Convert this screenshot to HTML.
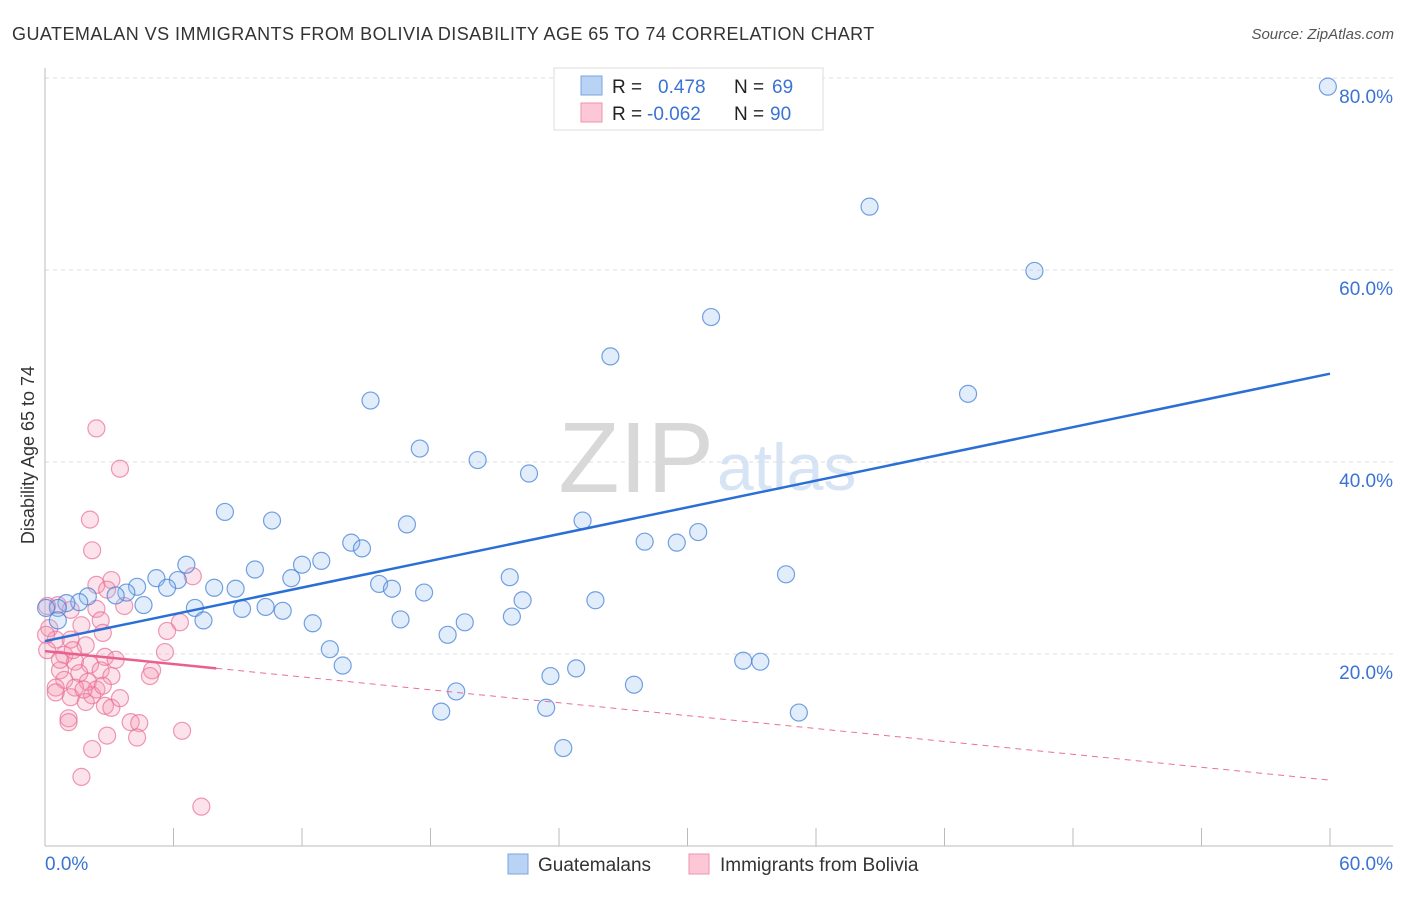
<!DOCTYPE html>
<html><head><meta charset="utf-8"><style>
body{margin:0;background:#fff;font-family:"Liberation Sans",sans-serif}
svg text{font-family:"Liberation Sans",sans-serif}
</style></head><body>
<svg width="1406" height="892" id="c">
<text x="12" y="40" font-size="18" fill="#333" letter-spacing="0.45">GUATEMALAN VS IMMIGRANTS FROM BOLIVIA DISABILITY AGE 65 TO 74 CORRELATION CHART</text>
<text x="1394" y="39" font-size="15" fill="#555" text-anchor="end" font-style="italic">Source: ZipAtlas.com</text>
<text x="714" y="492" font-size="100" fill="#d8d8d8" text-anchor="end" font-family="Liberation Serif">ZIP</text>
<text x="717" y="490" font-size="66" fill="#d6e4f5">atlas</text>
<text transform="translate(34,455) rotate(-90)" font-size="18" fill="#333" text-anchor="middle">Disability Age 65 to 74</text>
<g id="grid"></g><g id="pts"></g><g id="lines"></g>
<g>
<rect x="554" y="68" width="269" height="62" fill="#fff" stroke="#ddd"/>
<rect x="581" y="76" width="21" height="19" fill="#b9d3f5" stroke="#7aa6e0"/>
<rect x="581" y="103" width="21" height="19" fill="#fcc7d6" stroke="#ef90ac"/>
<text x="612" y="93" font-size="19" fill="#222">R =</text><text x="658" y="93" font-size="19" fill="#3a73d4">0.478</text>
<text x="734" y="93" font-size="19" fill="#222">N =</text><text x="772" y="93" font-size="19" fill="#3a73d4">69</text>
<text x="612" y="120" font-size="19" fill="#222">R =</text><text x="647" y="120" font-size="19" fill="#3a73d4">-0.062</text>
<text x="734" y="120" font-size="19" fill="#222">N =</text><text x="770" y="120" font-size="19" fill="#3a73d4">90</text>
</g>
<g>
<rect x="508" y="854" width="20" height="20" fill="#b9d3f5" stroke="#7aa6e0"/>
<text x="538" y="871" font-size="19" fill="#333">Guatemalans</text>
<rect x="689" y="854" width="20" height="20" fill="#fcc7d6" stroke="#ef90ac"/>
<text x="720" y="871" font-size="19" fill="#333">Immigrants from Bolivia</text>
</g>
</svg>
<script>
const yTicks=[20,40,60,80];
const xTickLabels=["0.0%","60.0%"];
const blueX=[59.9,38.5,46.2,31.1,26.4,43.1,15.2,17.5,20.2,22.6,8.4,10.6,16.9,25.1,30.5,28.0,29.5,14.3,14.8,12.9,12.0,6.6,9.8,5.2,6.2,11.5,21.7,34.6,15.6,4.3,5.7,7.9,8.9,16.2,17.7,3.8,3.3,2.0,1.6,1.0,4.6,22.3,25.7,7.0,9.2,10.3,11.1,0.6,0.05,7.4,12.5,16.6,19.6,21.8,18.8,0.6,13.3,13.9,32.6,33.4,24.8,23.6,27.5,19.2,23.4,18.5,35.2,24.2];
const blueY=[79.1,66.6,59.9,55.1,51.0,47.1,46.4,41.4,40.2,38.8,34.8,33.9,33.5,33.9,32.7,31.7,31.6,31.6,31.0,29.7,29.3,29.3,28.8,27.9,27.7,27.9,28.0,28.3,27.3,27.0,26.9,26.9,26.8,26.8,26.4,26.4,26.1,26.0,25.4,25.3,25.1,25.6,25.6,24.8,24.7,24.9,24.5,24.8,24.8,23.5,23.2,23.6,23.3,23.9,22.0,23.5,20.5,18.8,19.3,19.2,18.5,17.7,16.8,16.1,14.4,14.0,13.9,10.2];
const pinkX=[2.4,3.5,2.1,2.2,6.9,3.1,2.4,2.9,0.6,1.2,2.4,3.7,2.6,6.3,1.7,0.2,2.7,5.7,0.5,1.2,1.9,0.9,2.8,3.3,5.6,1.4,2.1,0.7,2.6,5.0,1.6,3.1,0.9,2.0,4.9,0.5,1.4,2.4,1.2,2.2,1.9,2.8,3.1,1.1,1.1,4.0,4.4,2.9,4.3,6.4,2.2,1.7,7.3,0.1,0.05,0.1,0.7,1.3,0.5,1.8,3.5,2.7];
const pinkY=[43.5,39.3,34.0,30.8,28.1,27.7,27.2,26.7,25.1,24.6,24.7,25.0,23.5,23.3,23.0,22.7,22.2,22.4,21.5,21.5,20.9,19.9,19.7,19.4,20.2,19.2,18.9,18.3,18.3,18.3,18.0,17.7,17.3,17.1,17.7,16.5,16.5,16.3,15.5,15.7,15.0,14.6,14.4,13.3,12.9,12.9,12.8,11.5,11.3,12.0,10.1,7.2,4.1,25.0,22.0,20.4,19.4,20.4,16.0,16.3,15.4,16.7];
const blueLine=[21.35,49.2];
const pinkLine=[20.3,-0.224];
const X=v=>45+v*1285/60, Y=v=>846-v*9.6;
const NS="http://www.w3.org/2000/svg";
function mk(tag,attrs,parent){const e=document.createElementNS(NS,tag);for(const k in attrs)e.setAttribute(k,attrs[k]);parent.appendChild(e);return e;}
const g=document.getElementById('grid');
yTicks.forEach(t=>{
 const l=mk('line',{x1:45,x2:1393,y1:Y(t),y2:Y(t),stroke:'#ddd','stroke-dasharray':'4,4'},g);
 
 
 const tx=mk('text',{x:1393,y:Y(t)+25,'font-size':19,fill:'#3a73d4','text-anchor':'end'},g);
 tx.textContent=t.toFixed(1)+'%';
 
 
});
let ax=mk('line',{x1:45,x2:45,y1:68,y2:846,stroke:'#bbb'},g);


ax=mk('line',{x1:45,x2:1393,y1:846,y2:846,stroke:'#bbb'},g);


for(let i=0;i<=10;i++){const v=i*6;const t=mk('line',{x1:X(v),x2:X(v),y1:828,y2:846,stroke:'#bbb'},g);
 
 }
let xl=mk('text',{x:45,y:870,'font-size':19,fill:'#3a73d4'},g);xl.textContent=xTickLabels[0];


xl=mk('text',{x:1393,y:870,'font-size':19,fill:'#3a73d4','text-anchor':'end'},g);xl.textContent=xTickLabels[1];


const p=document.getElementById('pts');
pinkX.forEach((x,i)=>{const c=mk('circle',{cx:X(x),cy:Y(pinkY[i]),r:8.5,fill:'rgba(245,150,180,0.28)',stroke:'rgba(232,110,150,0.7)','stroke-width':1.2},p);
 
 });
blueX.forEach((x,i)=>{const c=mk('circle',{cx:X(x),cy:Y(blueY[i]),r:8.5,fill:'rgba(150,190,240,0.28)',stroke:'rgba(70,130,215,0.75)','stroke-width':1.2},p);
 
 });
const L=document.getElementById('lines');
let ln=mk('line',{x1:X(0),y1:Y(blueLine[0]),x2:X(60),y2:Y(blueLine[1]),stroke:'#2a6fd6','stroke-width':2.5},L);


ln=mk('line',{x1:X(8),y1:Y(pinkLine[0]+pinkLine[1]*8),x2:X(60),y2:Y(pinkLine[0]+pinkLine[1]*60),stroke:'#e8709a','stroke-width':1,'stroke-dasharray':'6,5'},L);


ln=mk('line',{x1:X(0),y1:Y(pinkLine[0]),x2:X(8),y2:Y(pinkLine[0]+pinkLine[1]*8),stroke:'#e8608f','stroke-width':2.5},L);


</script>
</body></html>
